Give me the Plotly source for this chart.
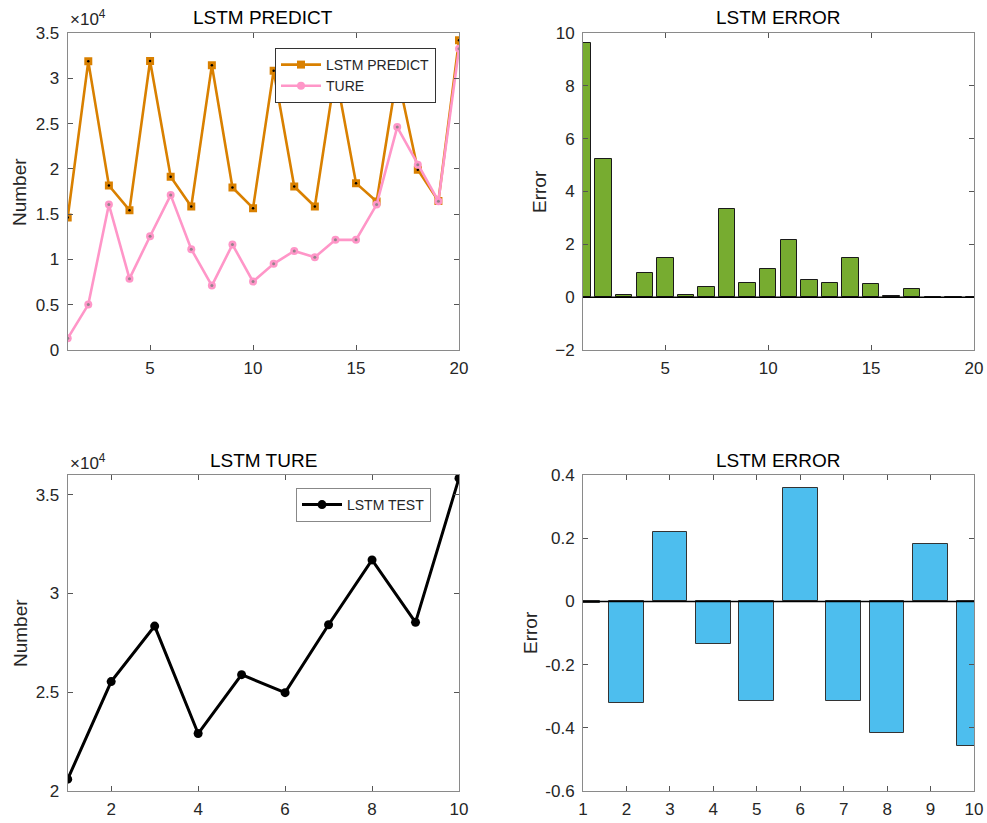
import plotly.graph_objects as go

# ---------------- data ----------------
x20 = list(range(1, 21))
x10 = list(range(1, 11))

lstm_predict = [14630, 31870, 18160, 15440, 31910, 19120, 15840, 31430, 17940, 15660,
                30840, 18050, 15840, 30700, 18420, 16400, 30500, 19900, 16450, 34190]
ture = [1290, 5010, 16060, 7880, 12560, 17100, 11130, 7110, 11640, 7550,
        9510, 10940, 10240, 12160, 12160, 16060, 24610, 20450, 16430, 33270]
error_top = [9.63, 5.24, 0.08, 0.92, 1.50, 0.08, 0.39, 3.34, 0.52, 1.06,
             2.18, 0.66, 0.53, 1.50, 0.48, 0.03, 0.30, -0.02, 0.02, 0.02]
lstm_test = [20600, 25540, 28350, 22910, 25890, 24980, 28420, 31700, 28540, 35840]
error_bottom = [-0.005, -0.321, 0.219, -0.134, -0.315, 0.360, -0.315, -0.415, 0.181, -0.458]

tl_ticks = [0, 5000, 10000, 15000, 20000, 25000, 30000, 35000]
tl_ticktext = ["0", "0.5", "1", "1.5", "2", "2.5", "3", "3.5"]
bl_ticks = [20000, 25000, 30000, 35000]
bl_ticktext = ["2", "2.5", "3", "3.5"]
br_ticks = [-0.6, -0.4, -0.2, 0, 0.2, 0.4]
br_ticktext = ["-0.6", "-0.4", "-0.2", "0", "0.2", "0.4"]

ORANGE = "rgb(217,128,0)"
PINK = "rgb(255,150,200)"
GREEN = "#77AC30"
BLUE = "#4DBEEE"
FONT = "Liberation Sans, Arial, sans-serif"
TXT = "#262626"

W, H = 987, 823
def fx(px):
    return px / W
def fy(py):
    return 1 - py / H

fig = go.Figure()

# top-left
fig.add_trace(go.Scatter(x=x20, y=lstm_predict, mode="lines+markers", name="LSTM PREDICT",
                         line=dict(color=ORANGE, width=2.6),
                         marker=dict(symbol="square", size=8, color=ORANGE),
                         xaxis="x", yaxis="y", legend="legend"))
fig.add_trace(go.Scatter(x=x20, y=lstm_predict, mode="markers", showlegend=False,
                         marker=dict(symbol="circle", size=2.5, color="black"),
                         xaxis="x", yaxis="y", hoverinfo="skip"))
fig.add_trace(go.Scatter(x=x20, y=ture, mode="lines+markers", name="TURE",
                         line=dict(color=PINK, width=2.6),
                         marker=dict(symbol="circle", size=8, color=PINK),
                         xaxis="x", yaxis="y", legend="legend"))
fig.add_trace(go.Scatter(x=x20, y=ture, mode="markers", showlegend=False,
                         marker=dict(symbol="circle", size=3, color="rgb(150,130,140)"),
                         xaxis="x", yaxis="y", hoverinfo="skip"))

# top-right
fig.add_trace(go.Bar(x=x20, y=error_top, width=0.8, showlegend=False,
                     marker=dict(color=GREEN, line=dict(color="#1a1a1a", width=1)),
                     xaxis="x2", yaxis="y2"))

# bottom-left
fig.add_trace(go.Scatter(x=x10, y=lstm_test, mode="lines+markers", name="LSTM TEST",
                         line=dict(color="black", width=3),
                         marker=dict(symbol="circle", size=9, color="black"),
                         xaxis="x3", yaxis="y3", legend="legend2"))

# bottom-right
fig.add_trace(go.Bar(x=x10, y=error_bottom, width=0.8, showlegend=False,
                     marker=dict(color=BLUE, line=dict(color="#333333", width=1)),
                     xaxis="x4", yaxis="y4"))

axis_common = dict(showgrid=False, ticks="inside", ticklen=5, tickcolor="#555",
                   showline=True, linecolor="#8a8a8a", linewidth=1, mirror="ticks",
                   tickfont=dict(family=FONT, size=17, color=TXT), zeroline=False,
                   automargin=False)
xcommon = dict(ticklabeloverflow="allow", ticklabelstandoff=3, **axis_common)
ycommon = dict(ticklabeloverflow="allow", ticklabelstandoff=4, **axis_common)

dom_xl = [fx(67.7), fx(459)]
dom_xr = [fx(583), fx(974)]
dom_yt = [fy(350), fy(33)]
dom_yb = [fy(791), fy(475)]

fig.update_layout(
    width=W, height=H, margin=dict(l=0, r=0, t=0, b=0, autoexpand=False),
    paper_bgcolor="white", plot_bgcolor="white",
    bargap=0,
    xaxis=dict(domain=dom_xl, anchor="y", range=[1, 20], tickvals=[5, 10, 15, 20], **xcommon),
    yaxis=dict(domain=dom_yt, anchor="x", range=[0, 35000], tickvals=tl_ticks, ticktext=tl_ticktext, **ycommon),
    xaxis2=dict(domain=dom_xr, anchor="y2", range=[1, 20], tickvals=[5, 10, 15, 20], **xcommon),
    yaxis2=dict(domain=dom_yt, anchor="x2", range=[-2, 10], tickvals=[-2, 0, 2, 4, 6, 8, 10], **ycommon),
    xaxis3=dict(domain=dom_xl, anchor="y3", range=[1, 10], tickvals=[2, 4, 6, 8, 10], **xcommon),
    yaxis3=dict(domain=dom_yb, anchor="x3", range=[20000, 36000], tickvals=bl_ticks, ticktext=bl_ticktext, **ycommon),
    xaxis4=dict(domain=dom_xr, anchor="y4", range=[1, 10], tickvals=x10, **xcommon),
    yaxis4=dict(domain=dom_yb, anchor="x4", range=[-0.6, 0.4], tickvals=br_ticks, ticktext=br_ticktext, **ycommon),
    legend=dict(x=fx(275), y=fy(48), xanchor="left", yanchor="top",
                bordercolor="#333", borderwidth=1, bgcolor="white",
                font=dict(family=FONT, size=14, color=TXT),
                tracegroupgap=0, itemwidth=40),
    legend2=dict(x=fx(296), y=fy(488), xanchor="left", yanchor="top",
                 bordercolor="#888", borderwidth=1, bgcolor="white",
                 font=dict(family=FONT, size=14, color=TXT), itemwidth=40),
)

# baselines for bars
fig.add_shape(type="line", xref="x2 domain", yref="y2", x0=0, x1=1, y0=0, y1=0,
              line=dict(color="black", width=1.5))
fig.add_shape(type="line", xref="x4 domain", yref="y4", x0=0, x1=1, y0=0, y1=0,
              line=dict(color="black", width=1.5))

ann = []
def title(text, xc, yc):
    ann.append(dict(text=text, x=fx(xc), y=fy(yc), xref="paper", yref="paper",
                    showarrow=False, font=dict(family=FONT, size=19, color="black"),
                    xanchor="center", yanchor="middle"))
title("LSTM PREDICT", 263, 17)
title("LSTM ERROR", 778, 17)
title("LSTM TURE", 263, 460)
title("LSTM ERROR", 778, 460)

def ylab(text, xc, yc):
    ann.append(dict(text=text, x=fx(xc), y=fy(yc), xref="paper", yref="paper",
                    showarrow=False, textangle=-90, font=dict(family=FONT, size=19, color=TXT),
                    xanchor="center", yanchor="middle"))
ylab("Number", 20, 192)
ylab("Error", 540, 192)
ylab("Number", 20, 633)
ylab("Error", 530, 633)

for yc in (31, 475):
    ann.append(dict(text="×10<sup>4</sup>", x=fx(68), y=fy(yc), xref="paper", yref="paper",
                    showarrow=False, font=dict(family=FONT, size=17, color=TXT),
                    xanchor="left", yanchor="bottom"))

fig.update_layout(annotations=ann)
fig.write_html("out.html", config={"displayModeBar": False},
               post_script="document.body.style.margin='0';")
